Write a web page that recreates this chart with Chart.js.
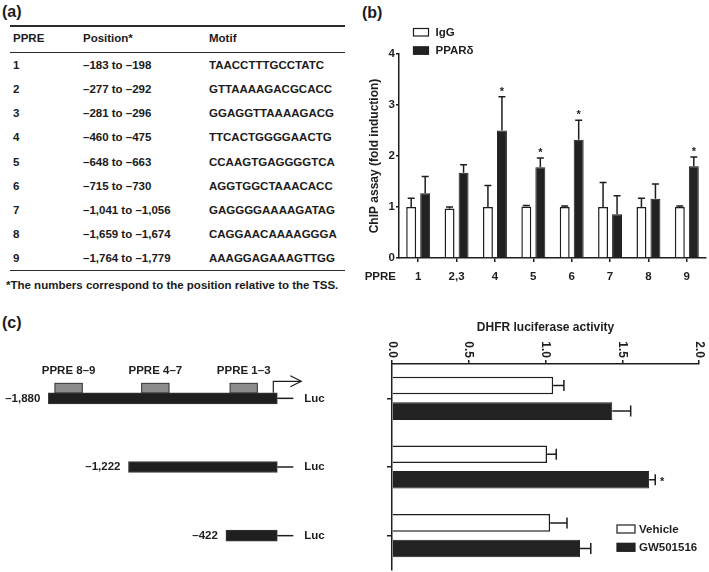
<!DOCTYPE html>
<html>
<head>
<meta charset="utf-8">
<script src="https://cdn.jsdelivr.net/npm/chart.js@4.4.0/dist/chart.umd.min.js"></script>
<style>
  body { margin: 0; background: #fff; width: 709px; height: 572px; position: relative; overflow: hidden;
         font-family: "Liberation Sans", Arial, sans-serif; font-weight: bold; color: #1b1b1b; }
  .t { position: absolute; white-space: nowrap; font-size: 11.5px; line-height: 13px; transform: translateY(-50%); }
  .panel { position: absolute; font-size: 16px; line-height: 18px; transform: translateY(-50%); }
  .rule { position: absolute; left: 10px; width: 335px; background: #2a2a2a; }
  canvas { position: absolute; }
</style>
</head>
<body>
<div class="panel" style="left:2px;top:12px">(a)</div>
<div class="panel" style="left:362px;top:13px">(b)</div>
<div class="panel" style="left:2px;top:323px">(c)</div>

<div id="table"></div>

<canvas id="chipChart" width="349" height="270" style="left:360px;top:20px"></canvas>
<canvas id="mapChart" width="360" height="282" style="left:0;top:290px"></canvas>
<canvas id="lucChart" width="349" height="282" style="left:360px;top:290px"></canvas>

<script>
// ---- (a) table data ----
const ppreIds = ["1", "2", "3", "4", "5", "6", "7", "8", "9"];
const positions = ["–183 to –198", "–277 to –292", "–281 to –296", "–460 to –475", "–648 to –663",
                   "–715 to –730", "–1,041 to –1,056", "–1,659 to –1,674", "–1,764 to –1,779"];
const motifs = ["TAACCTTTGCCTATC", "GTTAAAAGACGCACC", "GGAGGTTAAAAGACG", "TTCACTGGGGAACTG", "CCAAGTGAGGGGTCA",
                "AGGTGGCTAAACACC", "GAGGGGAAAAGATAG", "CAGGAACAAAAGGGA", "AAAGGAGAAAGTTGG"];

// ---- (b) ChIP assay ----
const chipLabels = ["1", "2,3", "4", "5", "6", "7", "8", "9"];
const iggValues = [1.0, 0.97, 1.0, 1.01, 1.0, 1.0, 1.0, 1.0];
const iggErrors = [0.17, 0.03, 0.42, 0.02, 0.02, 0.48, 0.17, 0.02];
const ppardValues = [1.27, 1.67, 2.5, 1.78, 2.32, 0.86, 1.16, 1.8];
const ppardErrors = [0.33, 0.16, 0.66, 0.18, 0.38, 0.36, 0.29, 0.18];
const ppardStars = [false, false, true, true, true, false, false, true];
const chipTicks = [0, 1, 2, 3, 4];

// ---- (c) constructs and luciferase ----
const constructs = ["–1,880", "–1,222", "–422"];
const constructStart = [-1880, -1222, -422];
const ppreBoxLabels = ["PPRE 8–9", "PPRE 4–7", "PPRE 1–3"];
const ppreBoxRanges = [[-1826, -1601], [-1114, -889], [-388, -164]];
const vehicleValues = [1.05, 1.01, 1.03];
const vehicleErrors = [0.07, 0.06, 0.11];
const gwValues = [1.435, 1.675, 1.225];
const gwErrors = [0.12, 0.04, 0.07];
const gwStars = [false, true, false];
const lucTicks = [0, 0.5, 1.0, 1.5, 2.0];

const INK = "#1e1e1e";
const FONT = '"Liberation Sans", Arial, sans-serif';

// build table (a)
const table = document.getElementById("table");
function addText(txt, x, y, cls) {
  const d = document.createElement("div");
  d.className = cls || "t";
  d.style.left = x + "px";
  d.style.top = y + "px";
  d.textContent = txt;
  table.appendChild(d);
}
function addRule(y, h) {
  const d = document.createElement("div");
  d.className = "rule";
  d.style.top = y + "px";
  d.style.height = h + "px";
  table.appendChild(d);
}
addRule(25, 1.5);
addRule(51.5, 1);
addRule(269.5, 1.5);
addText("PPRE", 13, 38);
addText("Position*", 83, 38);
addText("Motif", 209, 38);
ppreIds.forEach((id, i) => {
  const y = 65 + i * 24.15;
  addText(id, 13, y);
  addText(positions[i], 83, y);
  addText(motifs[i], 209, y);
});
addText("*The numbers correspond to the position relative to the TSS.", 6, 285);

// error bars, stars and legend drawn with the chart's own scales
const errorBars = {
  id: "errorBars",
  afterDatasetsDraw(chart) {
    const ctx = chart.ctx;
    const horiz = chart.options.indexAxis === "y";
    const vs = horiz ? chart.scales.x : chart.scales.y;
    chart.data.datasets.forEach((ds, i) => {
      if (!ds.errors) return;
      const meta = chart.getDatasetMeta(i);
      meta.data.forEach((bar, j) => {
        const v = ds.data[j], e = ds.errors[j];
        const p0 = vs.getPixelForValue(v), p1 = vs.getPixelForValue(v + e);
        const cap = horiz ? 5.5 : 3.5;
        ctx.save();
        ctx.strokeStyle = INK;
        ctx.lineWidth = 1.5;
        ctx.beginPath();
        if (horiz) {
          ctx.moveTo(p0, bar.y); ctx.lineTo(p1, bar.y);
          ctx.moveTo(p1, bar.y - cap); ctx.lineTo(p1, bar.y + cap);
        } else {
          ctx.moveTo(bar.x, p0); ctx.lineTo(bar.x, p1);
          ctx.moveTo(bar.x - cap, p1); ctx.lineTo(bar.x + cap, p1);
        }
        ctx.stroke();
        if (ds.stars && ds.stars[j]) {
          ctx.fillStyle = INK;
          ctx.font = "bold 11px " + FONT;
          ctx.textAlign = "center";
          ctx.textBaseline = "middle";
          if (horiz) ctx.fillText("*", p1 + 7, bar.y + 2);
          else ctx.fillText("*", bar.x, p1 - 5);
        }
        ctx.restore();
      });
    });
  }
};

const boxLegend = {
  id: "boxLegend",
  afterDraw(chart, args, o) {
    const ctx = chart.ctx;
    ctx.save();
    ctx.font = "bold 11.5px " + FONT;
    ctx.textBaseline = "middle";
    chart.data.datasets.forEach((ds, i) => {
      const y = o.y + i * o.gap;
      ctx.fillStyle = ds.backgroundColor;
      ctx.strokeStyle = INK;
      ctx.lineWidth = 1.2;
      ctx.fillRect(o.x, y, o.w, o.h);
      ctx.strokeRect(o.x, y, o.w, o.h);
      ctx.fillStyle = INK;
      ctx.fillText(ds.label, o.x + o.w + o.textGap, y + o.h / 2 + 0.5);
    });
    ctx.restore();
  }
};

// (b)
new Chart(document.getElementById("chipChart"), {
  type: "bar",
  data: {
    labels: chipLabels,
    datasets: [
      { label: "IgG", data: iggValues, errors: iggErrors, backgroundColor: "#ffffff",
        borderColor: INK, borderWidth: 1.5 },
      { label: "PPARδ", data: ppardValues, errors: ppardErrors, stars: ppardStars,
        backgroundColor: "#222222", borderColor: INK, borderWidth: 1 }
    ]
  },
  options: {
    responsive: false,
    animation: false,
    categoryPercentage: 0.73,
    barPercentage: 0.71,
    layout: { padding: { top: 34, right: 3, left: 0, bottom: 0 } },
    plugins: {
      legend: { display: false },
      tooltip: { enabled: false },
      boxLegend: { x: 53.5, y: 8.5, w: 15, h: 7.5, gap: 18.3, textGap: 7 }
    },
    scales: {
      x: {
        grid: { display: true, drawOnChartArea: false, offset: false, color: INK, lineWidth: 1.5, tickLength: 4 },
        border: { color: INK, width: 1.5 },
        ticks: { color: INK, font: { family: FONT, size: 11.5, weight: "bold" }, padding: 8 },
        afterFit: s => { s.height = 32; }
      },
      y: {
        min: 0, max: 4,
        afterBuildTicks: s => { s.ticks = chipTicks.map(v => ({ value: v })); },
        grid: { display: true, drawOnChartArea: false, color: INK, lineWidth: 1.5, tickLength: 3 },
        border: { color: INK, width: 1.5 },
        ticks: { color: INK, font: { family: FONT, size: 11.5, weight: "bold" }, padding: 1 },
        title: { display: true, text: "ChIP assay (fold induction)", color: INK,
                 font: { family: FONT, size: 12, weight: "bold" }, padding: { top: 7, bottom: 0 } },
        afterFit: s => { s.width = 39; }
      }
    }
  },
  plugins: [errorBars, boxLegend, {
    id: "ppreAxisName",
    afterDraw(chart) {
      const ctx = chart.ctx, xs = chart.scales.x;
      ctx.save();
      ctx.fillStyle = INK;
      ctx.font = "bold 11.5px " + FONT;
      ctx.textAlign = "right";
      ctx.textBaseline = "middle";
      ctx.fillText("PPRE", chart.scales.y.right - 3, xs.top + 18.5);
      ctx.restore();
    }
  }]
});

// (c) left: promoter constructs
new Chart(document.getElementById("mapChart"), {
  type: "bar",
  data: {
    labels: constructs,
    datasets: [{
      label: "construct",
      data: constructStart.map(s => [s, 0]),
      backgroundColor: "#1f1f1f",
      borderColor: "#3a3a3a",
      borderWidth: 1,
      borderSkipped: false,
      barThickness: 11
    }]
  },
  options: {
    responsive: false,
    animation: false,
    indexAxis: "y",
    layout: { padding: { top: 74, bottom: 2, left: 0, right: 0 } },
    plugins: { legend: { display: false }, tooltip: { enabled: false } },
    scales: {
      x: { display: false, min: -2277, max: 679 },
      y: { display: false }
    }
  },
  plugins: [{
    id: "mapDecor",
    afterDatasetsDraw(chart) {
      const ctx = chart.ctx, xs = chart.scales.x, ys = chart.scales.y;
      const end = xs.getPixelForValue(0);
      ctx.save();
      ctx.font = "bold 11.5px " + FONT;
      ctx.textBaseline = "middle";
      constructs.forEach((lab, i) => {
        const y = ys.getPixelForValue(i);
        const x0 = xs.getPixelForValue(constructStart[i]);
        ctx.fillStyle = INK;
        ctx.textAlign = "right";
        ctx.fillText(lab, x0 - 8, y);
        ctx.strokeStyle = INK;
        ctx.lineWidth = 1.5;
        ctx.beginPath();
        ctx.moveTo(end, y); ctx.lineTo(end + 16, y);
        ctx.stroke();
        ctx.textAlign = "left";
        ctx.fillText("Luc", end + 27, y);
      });
      // PPRE boxes on the full-length construct
      const top = ys.getPixelForValue(0) - 5.5;
      ppreBoxRanges.forEach((r, i) => {
        const a = xs.getPixelForValue(r[0]), b = xs.getPixelForValue(r[1]);
        ctx.fillStyle = "#8c8c8c";
        ctx.strokeStyle = "#333";
        ctx.lineWidth = 1;
        ctx.fillRect(a, top - 9.5, b - a, 9.5);
        ctx.strokeRect(a, top - 9.5, b - a, 9.5);
        ctx.fillStyle = INK;
        ctx.textAlign = "center";
        ctx.fillText(ppreBoxLabels[i], (a + b) / 2, top - 22);
      });
      // transcription start arrow
      const ax = end - 4, ay = top - 11.5;
      ctx.strokeStyle = INK;
      ctx.lineWidth = 1.2;
      ctx.beginPath();
      ctx.moveTo(ax, top); ctx.lineTo(ax, ay); ctx.lineTo(ax + 28, ay);
      ctx.moveTo(ax + 17, ay - 5.5); ctx.lineTo(ax + 28, ay); ctx.lineTo(ax + 17, ay + 5.5);
      ctx.stroke();
      ctx.restore();
    }
  }]
});

// (c) right: luciferase activity
new Chart(document.getElementById("lucChart"), {
  type: "bar",
  data: {
    labels: constructs,
    datasets: [
      { label: "Vehicle", data: vehicleValues, errors: vehicleErrors, backgroundColor: "#ffffff",
        borderColor: INK, borderWidth: 1.5 },
      { label: "GW501516", data: gwValues, errors: gwErrors, stars: gwStars,
        backgroundColor: "#222222", borderColor: INK, borderWidth: 1 }
    ]
  },
  options: {
    responsive: false,
    animation: false,
    indexAxis: "y",
    categoryPercentage: 0.745,
    barPercentage: 0.686,
    layout: { padding: { top: 0, right: 10, left: 0, bottom: 2 } },
    plugins: {
      legend: { display: false },
      tooltip: { enabled: false },
      boxLegend: { x: 257, y: 235, w: 18, h: 8, gap: 18.3, textGap: 4 }
    },
    scales: {
      x: {
        position: "top",
        min: 0, max: 2,
        afterBuildTicks: s => { s.ticks = lucTicks.map(v => ({ value: v })); },
        grid: { display: true, drawOnChartArea: false, color: INK, lineWidth: 1.5, tickLength: 4 },
        border: { color: INK, width: 1.5 },
        ticks: { display: false },
        title: { display: true, text: "DHFR luciferase activity", color: INK,
                 font: { family: FONT, size: 12, weight: "bold" }, padding: { top: 30, bottom: 0 } },
        afterFit: s => { s.height = 74; }
      },
      y: {
        grid: { display: true, drawOnChartArea: false, offset: false, color: INK, lineWidth: 1.5, tickLength: 5 },
        border: { color: INK, width: 1.5 },
        ticks: { display: false },
        afterFit: s => { s.width = 32; }
      }
    }
  },
  plugins: [errorBars, boxLegend, {
    id: "rotatedTicks",
    afterDraw(chart) {
      const ctx = chart.ctx, xs = chart.scales.x;
      ctx.save();
      ctx.fillStyle = INK;
      ctx.font = "bold 12px " + FONT;
      ctx.textAlign = "right";
      ctx.textBaseline = "middle";
      lucTicks.forEach(v => {
        ctx.save();
        ctx.translate(xs.getPixelForValue(v), xs.bottom - 6);
        ctx.rotate(Math.PI / 2);
        ctx.fillText(v.toFixed(1), 0, 0);
        ctx.restore();
      });
      ctx.restore();
    }
  }]
});
</script>
</body>
</html>
